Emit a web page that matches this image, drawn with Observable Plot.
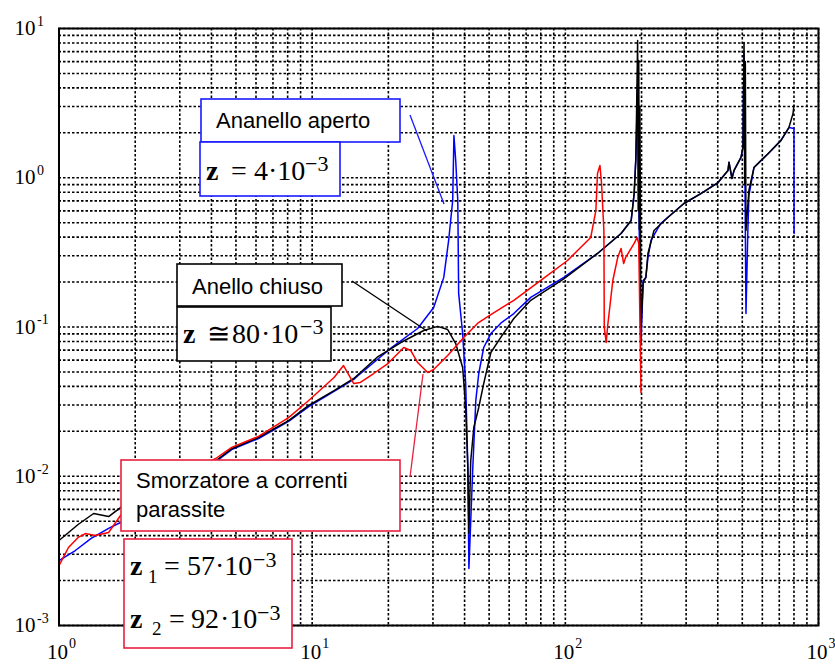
<!DOCTYPE html>
<html><head><meta charset="utf-8">
<script src="https://cdn.jsdelivr.net/npm/d3@7"></script>
<script src="https://cdn.jsdelivr.net/npm/@observablehq/plot@0.6"></script>
<style>body{margin:0;background:#fff}#c{position:relative;width:835px;height:664px}</style>
</head><body><div id="c"></div>
<script>
// frequency (Hz) and amplitude values
const freqBlue = [1,1.16,1.34,1.57,1.75,2.3,3.02,4.16,4.81,6.14,8.07,9.69,12.2,14.6,15.2,20.4,26.1,30.2,33.1,34.6,35.9,36.3,36.9,37.6,37.9,39.3,40.4,41.2,41.6,43.1,44.3,45.5,47.6,50.8,55.6,62.6,73,98.6,134,166,182,187,190,193,195,199,203,208,212,218,238,294,343,401,439,443,455,464,494,503,508,517,526,531,556,632,711,764,800,801];
const ampBlue = [0.00272,0.00318,0.00383,0.00447,0.0049,0.00688,0.00937,0.01255,0.0151,0.0179,0.0233,0.0293,0.037,0.0445,0.0473,0.0718,0.0977,0.135,0.215,0.38,0.704,1.92,1.3,0.704,0.168,0.0904,0.0418,0.0114,0.00241,0.0114,0.0322,0.0488,0.0729,0.0904,0.106,0.123,0.158,0.215,0.311,0.423,0.517,0.784,1.37,4.28,0.704,0.0775,0.205,0.215,0.292,0.38,0.494,0.672,0.784,0.929,1.12,1.27,0.989,1.12,1.37,1.59,6.8,0.123,0.443,0.76,1.17,1.45,1.78,2.17,2.14,0.423];

const freqBlack = [1,1.19,1.37,1.57,1.75,2.3,3.02,4.16,4.81,6.14,8.07,9.69,12.2,14.6,18.2,22.4,27.6,31.3,34.3,36.9,39.3,40.4,41.2,41.6,42.3,43.5,45.5,47.6,50.8,55.6,62.6,73,98.6,134,166,182,187,190,193,194,195,196,197,199,203,208,212,224,254,294,343,401,439,443,455,464,494,503,508,511,514,517,531,556,632,711,764,793,800];
const ampBlack = [0.00371,0.00475,0.00563,0.00537,0.00617,0.00766,0.00981,0.0127,0.0153,0.0182,0.0236,0.0298,0.0375,0.0452,0.0634,0.0787,0.0947,0.101,0.0962,0.0775,0.0535,0.0289,0.0114,0.00413,0.0127,0.0212,0.0289,0.0418,0.0675,0.0851,0.114,0.151,0.21,0.311,0.423,0.517,0.784,1.37,8.31,0.6,6.1,0.45,3.0,0.1,0.199,0.215,0.311,0.443,0.542,0.672,0.784,0.929,1.12,1.27,0.989,1.12,1.37,1.59,8.06,0.9,6.0,0.443,0.822,1.17,1.45,1.78,2.17,2.69,3.05];

const freqRed = [1,1.09,1.19,1.27,1.39,1.57,1.75,2.3,3.02,4.16,4.81,6.14,8.07,9.69,12.2,13.3,14.6,15.5,17.5,19.9,21.8,23.0,24.5,26.1,28.6,30.2,34.3,39.7,45.1,50.8,62.6,80,102,126,132,134,137,139,142,142.5,145,147,154,161,166,170,173,187,192,195,199];
const ampRed = [0.00252,0.00333,0.00389,0.00413,0.00401,0.0042,0.00546,0.00766,0.00996,0.01315,0.0156,0.0185,0.0247,0.0322,0.0459,0.0552,0.0418,0.0425,0.0488,0.0569,0.0664,0.0729,0.0696,0.0578,0.0495,0.0519,0.0644,0.0851,0.106,0.121,0.151,0.205,0.279,0.398,0.603,1.07,1.21,0.915,0.443,0.0992,0.0787,0.102,0.205,0.292,0.336,0.266,0.292,0.363,0.398,0.363,0.0364];

const xTickExp = [0,1,2,3];
const yTickExp = [-3,-2,-1,0,1];

const zip = (f,a) => f.map((v,i)=>({f:v,a:a[i]}));
const gridX = d3.range(0,3).flatMap(k=>d3.range(1,10).map(m=>m*10**k)).concat([1000]);
const gridY = d3.range(-3,1).flatMap(k=>d3.range(1,10).map(m=>+(m*10**k).toPrecision(3))).concat([10]);

const serif = "Liberation Serif, Times New Roman, serif";
const chart = Plot.plot({
  width: 835, height: 664,
  marginLeft: 58.5, marginRight: 17, marginTop: 28, marginBottom: 39,
  x: {type: "log", domain: [1, 1000], axis: null},
  y: {type: "log", domain: [0.001, 10], axis: null},
  style: {background: "white"},
  marks: [
    Plot.ruleX(gridX, {x: d=>d, stroke: "black", strokeWidth: 1.6, strokeDasharray: "2.5,2"}),
    Plot.ruleY(gridY, {y: d=>d, stroke: "black", strokeWidth: 1.6, strokeDasharray: "2.5,2"}),
    Plot.line(zip(freqBlue, ampBlue), {x: "f", y: "a", stroke: "#0000ff", strokeWidth: 1.5}),
    Plot.line(zip(freqBlack, ampBlack), {x: "f", y: "a", stroke: "black", strokeWidth: 1.5}),
    Plot.line(zip(freqRed, ampRed), {x: "f", y: "a", stroke: "#ff0000", strokeWidth: 1.5}),
    Plot.frame({stroke: "black", strokeWidth: 2}),
    Plot.text(xTickExp, {x: d=>10**d, y: 0.001, text: ()=>"10", textAnchor: "end", dx: 9, dy: 27, fontSize: 21, fontFamily: serif, fill: "black"}),
    Plot.text(xTickExp, {x: d=>10**d, y: 0.001, text: d=>String(d), textAnchor: "start", dx: 10, dy: 18, fontSize: 14, fontFamily: serif, fill: "black"}),
    Plot.text(yTickExp, {x: 1, y: d=>10**d, text: ()=>"10", textAnchor: "end", dx: -23.5, dy: 0, fontSize: 21, fontFamily: serif, fill: "black"}),
    Plot.text(yTickExp, {x: 1, y: d=>10**d, text: d=>String(d), textAnchor: "start", dx: -22, dy: -7, fontSize: 14, fontFamily: serif, fill: "black"})
  ]
});
document.getElementById("c").appendChild(chart);

// annotation overlay (pixel positions)
const svg = d3.select(chart);
const g = svg.append("g").attr("text-anchor", "start");
const BLUE = "#1a1aff", RED = "#e8203f";
const leaders = [
  [410,115,444,204,BLUE],
  [352,281,427,331,"black"],
  [410,477,423,374,RED]
];
leaders.forEach(([x1,y1,x2,y2,c]) => g.append("line").attr("x1",x1).attr("y1",y1).attr("x2",x2).attr("y2",y2).attr("stroke",c).attr("stroke-width",1.3));
const boxes = [
  [201,99,199,43,BLUE],[200,142,140,54,BLUE],
  [177,264,165,42,"black"],[177,307,154,54,"black"],
  [121,460,279,71,RED],[124,539,168,109,RED]
];
boxes.forEach(([x,y,w,h,c]) => g.append("rect").attr("x",x).attr("y",y).attr("width",w).attr("height",h).attr("fill","white").attr("stroke",c).attr("stroke-width",1.6));
const sans = "Liberation Sans, Arial, sans-serif";
function label(x,y,t){ g.append("text").attr("x",x).attr("y",y).attr("text-anchor","start").attr("font-family",sans).attr("font-size",22).attr("fill","black").text(t); }
label(216,128,"Ananello aperto");
label(192,294,"Anello chiuso");
label(136,488,"Smorzatore a correnti");
label(136,517,"parassite");
// one text per formula; parts: [text, x, baseline y, font size, bold]
function math(parts){
  const t = g.append("text").attr("text-anchor","start").attr("font-family",serif).attr("fill","black");
  parts.forEach(([s,x,y,fs,b]) => {
    const e = t.append("tspan").attr("x",x).attr("y",y).attr("font-size",fs).text(s);
    if (b) e.attr("font-weight","bold");
  });
}
math([["z",206,180,28,1],["=",231,180,28],["4",254,180,28],["·10",268,180,28],["−3",305,171,22]]);
math([["z",183,343,28,1],["≅",207,343,28],["80",232,343,28],["·10",261,343,28],["−3",300,334,22]]);
math([["z",130,575,28,1],["1",148,583,19],["=",164,575,28],["57",187,575,28],["·10",215,575,28],["−3",253,567,22]]);
math([["z",130,628,28,1],["2",152,635,19],["=",169,628,28],["92",191,628,28],["·10",220,628,28],["−3",257,620,22]]);
</script></body></html>
